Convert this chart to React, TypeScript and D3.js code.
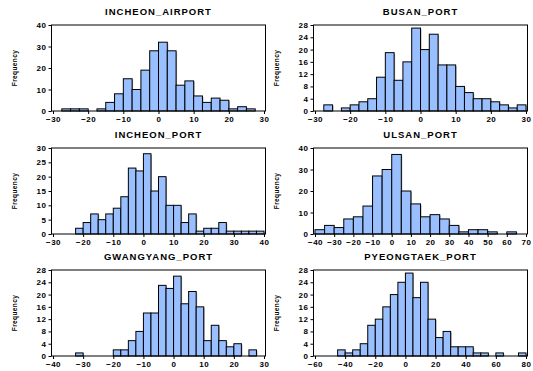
import { useEffect, useRef } from 'react';
import * as d3 from 'd3';

// bin counts (first bin start + bin width)
const incheonAirport = [1, 1, 1, 0, 1, 4, 8, 15, 10, 19, 28, 32, 28, 12, 14, 7, 4, 6, 5, 1, 2, 1];
const busanPort = [2, 0, 1, 2, 3, 4, 11, 19, 10, 16, 27, 20, 25, 15, 15, 8, 6, 4, 4, 3, 2, 1, 2];
const incheonPort = [2, 4, 7, 5, 7, 9, 13, 23, 22, 28, 15, 20, 10, 10, 4, 7, 1, 2, 2, 4, 1, 1, 1, 1, 1];
const ulsanPort = [2, 4, 3, 7, 8, 13, 27, 30, 37, 20, 14, 8, 9, 7, 4, 1, 2, 2, 1, 0, 1];
const gwangyangPort = [1, 0, 0, 0, 0, 2, 2, 5, 8, 14, 14, 23, 22, 26, 17, 21, 16, 5, 10, 5, 3, 4, 0, 2];
const pyeongtaekPort = [2, 1, 2, 4, 10, 12, 16, 20, 24, 27, 19, 24, 12, 6, 8, 3, 3, 3, 1, 1, 0, 1, 0, 0, 1];

const titles = ['INCHEON_AIRPORT', 'BUSAN_PORT', 'INCHEON_PORT', 'ULSAN_PORT', 'GWANGYANG_PORT', 'PYEONGTAEK_PORT'];
const binStarts = [-27.5, -27.5, -22.5, -40, -32.5, -45];
const binWidths = [2.5, 2.5, 2.5, 5, 2.5, 5];
const xDomains = [[-30, 30], [-30, 30], [-30, 40], [-40, 70], [-40, 30], [-60, 80]];
const xTickSteps = [10, 10, 10, 10, 10, 20];
const yMaxes = [40, 28, 30, 40, 28, 28];
const yTickSteps = [10, 4, 5, 10, 4, 4];
const counts = [incheonAirport, busanPort, incheonPort, ulsanPort, gwangyangPort, pyeongtaekPort];

const W = 533, H = 371;
const font = 'Arial, "Liberation Sans", sans-serif';

export default function App() {
    const svgRef = useRef<SVGSVGElement>(null);

    useEffect(() => {
        const svg = d3.select(svgRef.current);
        svg.selectAll('*').remove();

        const colLeft = [53, 315];
        const rowTop = [25, 148, 270];
        const pw = 211, ph = 86;

        titles.forEach((title, i) => {
            const left = colLeft[i % 2];
            const top = rowTop[Math.floor(i / 2)];
            const g = svg.append('g').attr('transform', `translate(${left},${top})`);

            const x = d3.scaleLinear().domain(xDomains[i]).range([0, pw]);
            const y = d3.scaleLinear().domain([0, yMaxes[i]]).range([ph, 0]);

            // bars
            const bins = counts[i].map((c, k) => ({
                x0: binStarts[i] + k * binWidths[i],
                x1: binStarts[i] + (k + 1) * binWidths[i],
                c,
            }));
            // soft shadow on the right side of the bars
            g.selectAll('rect.shadow')
                .data(bins.filter(d => d.c > 0))
                .join('rect')
                .attr('class', 'shadow')
                .attr('x', d => x(d.x0) + 1)
                .attr('y', d => y(d.c) + 1)
                .attr('width', d => x(d.x1) - x(d.x0))
                .attr('height', d => ph - y(d.c) - 1)
                .attr('fill', '#aaaaaa');
            g.selectAll('rect.bar')
                .data(bins)
                .join('rect')
                .attr('class', 'bar')
                .attr('x', d => x(d.x0))
                .attr('y', d => y(d.c))
                .attr('width', d => x(d.x1) - x(d.x0))
                .attr('height', d => ph - y(d.c))
                .attr('fill', '#99bfff')
                .attr('stroke', '#000')
                .attr('stroke-width', 1);

            // frame
            g.append('rect')
                .attr('x', -1.5).attr('y', 0)
                .attr('width', pw + 3).attr('height', ph)
                .attr('fill', 'none').attr('stroke', '#000').attr('stroke-width', 1);

            // axes
            const [x0, x1] = xDomains[i];
            const xAxis = d3.axisBottom(x)
                .tickValues(d3.range(x0, x1 + 0.1, xTickSteps[i]))
                .tickSize(3).tickPadding(2).tickFormat(d3.format('d'));
            const xg = g.append('g').attr('transform', `translate(0,${ph})`).call(xAxis);
            xg.select('.domain').remove();

            const yAxis = d3.axisLeft(y)
                .tickValues(d3.range(0, yMaxes[i] + 0.1, yTickSteps[i]))
                .tickSize(3).tickPadding(2);
            const yg = g.append('g').attr('transform', 'translate(-1.5,0)').call(yAxis);
            yg.select('.domain').remove();

            [xg, yg].forEach(a => {
                a.selectAll('text')
                    .attr('font-family', font)
                    .attr('font-weight', 'bold')
                    .attr('font-size', 8)
                    .attr('letter-spacing', 0.5)
                    .attr('fill', '#000');
                a.selectAll('line').attr('stroke', '#000');
            });

            // title
            g.append('text')
                .attr('x', pw / 2).attr('y', -10)
                .attr('text-anchor', 'middle')
                .attr('font-family', font).attr('font-weight', 'bold').attr('font-size', 9.5)
                .attr('letter-spacing', 1)
                .text(title);

            // y label
            g.append('text')
                .attr('transform', `translate(-36,${ph / 2}) rotate(-90)`)
                .attr('text-anchor', 'middle')
                .attr('font-family', font).attr('font-weight', 'bold').attr('font-size', 6.5)
                .attr('letter-spacing', 0.4)
                .text('Frequency');
        });
    }, []);

    return (
        <svg ref={svgRef} width={W} height={H}
            style={{ position: 'absolute', left: 0, top: 0, background: '#fff' }} />
    );
}
